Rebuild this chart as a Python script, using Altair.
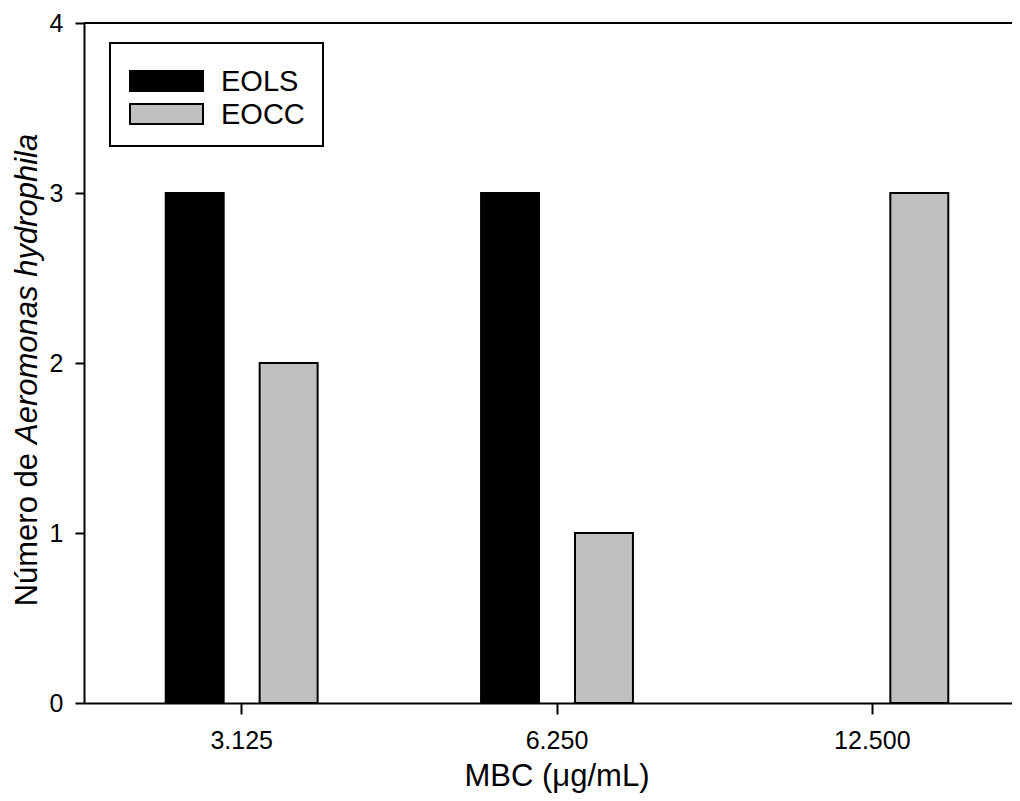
import altair as alt
import pandas as pd

# ---- data ----
categories = ["3.125", "6.250", "12.500"]
series = ["EOLS", "EOCC"]
eols = [3, 3, 0]
eocc = [2, 1, 3]
colors = ["#000000", "#c0c0c0"]
y_ticks = [0, 1, 2, 3, 4]

df = pd.DataFrame({
    "MBC": categories * 2,
    "Serie": [series[0]] * len(categories) + [series[1]] * len(categories),
    "Valor": eols + eocc,
})

FONT = "Liberation Sans, Arial, sans-serif"
W = 928          # visible width of the view (page is 1020 wide)
PLOT_W = 946     # full extent of the x range (runs past the page edge, as in the reference)
H = 680

one = pd.DataFrame({"k": [0]})

bars = alt.Chart(df).transform_filter("datum.Valor > 0").mark_bar(
    stroke="black", strokeWidth=2
).encode(
    x=alt.X("MBC:N", sort=categories,
            scale=alt.Scale(range=[0, PLOT_W], paddingInner=0, paddingOuter=0),
            axis=alt.Axis(title=None, labelAngle=0, labelFontSize=25, tickSize=11,
                          labelPadding=14, domainWidth=2, tickWidth=2)),
    xOffset=alt.XOffset("Serie:N", sort=series,
                        scale=alt.Scale(domain=series, paddingInner=0.383, paddingOuter=0.87)),
    y=alt.Y("Valor:Q", scale=alt.Scale(domain=[0, 4], nice=False),
            axis=alt.Axis(title=None, values=y_ticks, labelFontSize=25, tickSize=9,
                          labelPadding=12, domainWidth=2, tickWidth=2, format="d")),
    color=alt.Color("Serie:N", scale=alt.Scale(domain=series, range=colors), legend=None),
)

top_line = alt.Chart(one).mark_rule(color="black", strokeWidth=2).encode(
    x=alt.value(0), x2=alt.value(PLOT_W), y=alt.value(0)
)

ytitle1 = alt.Chart(one).mark_text(
    text="Número de", angle=270, align="right", baseline="alphabetic",
    fontSize=31, font=FONT, color="black"
).encode(x=alt.value(-47), y=alt.value(430))

ytitle2 = alt.Chart(one).mark_text(
    text="Aeromonas hydrophila", angle=270, align="left", baseline="alphabetic",
    fontSize=31, font=FONT, fontStyle="italic", color="black"
).encode(x=alt.value(-47), y=alt.value(421))

xtitle = alt.Chart(one).mark_text(
    text="MBC (μg/mL)", align="center", baseline="alphabetic",
    fontSize=31, font=FONT, color="black"
).encode(x=alt.value(PLOT_W / 2), y=alt.value(763))

legend_box = alt.Chart(one).mark_rect(fill="white", stroke="black", strokeWidth=2).encode(
    x=alt.value(26), x2=alt.value(239), y=alt.value(20), y2=alt.value(123)
)

legend_layers = [legend_box]
for i, (name, col) in enumerate(zip(series, colors)):
    y0 = 48 + 33 * i
    legend_layers.append(
        alt.Chart(one).mark_rect(fill=col, stroke="black", strokeWidth=2).encode(
            x=alt.value(46), x2=alt.value(119), y=alt.value(y0), y2=alt.value(y0 + 20)
        )
    )
    legend_layers.append(
        alt.Chart(one).mark_text(
            text=name, align="left", baseline="middle", fontSize=29, font=FONT, color="black"
        ).encode(x=alt.value(137), y=alt.value(y0 + 11))
    )

chart = alt.layer(bars, top_line, ytitle1, ytitle2, xtitle, *legend_layers).properties(
    width=W, height=H,
    autosize=alt.AutoSizeParams(type="none"),
    padding={"left": 76, "top": 15, "right": 0, "bottom": 90},
).configure_view(stroke=None).configure_axis(
    grid=False, labelFont=FONT, labelColor="black", domainColor="black", tickColor="black"
)

chart.save("out.html", embed_options={"renderer": "svg", "actions": False})
